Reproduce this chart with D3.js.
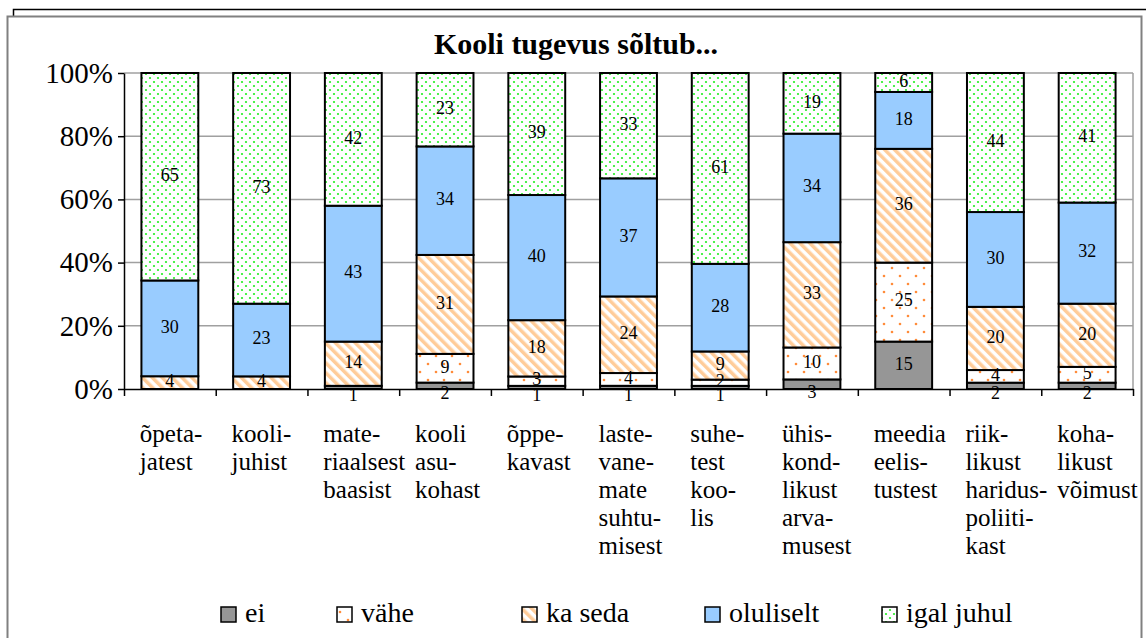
<!DOCTYPE html>
<html>
<head>
<meta charset="utf-8">
<script src="https://cdn.jsdelivr.net/npm/d3@7"></script>
<style>
  body { margin: 0; background: #fff; }
  svg { display: block; }
</style>
</head>
<body>
<div id="chart"></div>
<script>
// categories (line-broken as in the original)
var categories = [
  ["õpeta-", "jatest"],
  ["kooli-", "juhist"],
  ["mate-", "riaalsest", "baasist"],
  ["kooli", "asu-", "kohast"],
  ["õppe-", "kavast"],
  ["laste-", "vane-", "mate", "suhtu-", "misest"],
  ["suhe-", "test", "koo-", "lis"],
  ["ühis-", "kond-", "likust", "arva-", "musest"],
  ["meedia", "eelis-", "tustest"],
  ["riik-", "likust", "haridus-", "poliiti-", "kast"],
  ["koha-", "likust", "võimust"]
];
var seriesNames = ["ei", "vähe", "ka seda", "oluliselt", "igal juhul"];
var ei        = [0, 0, 1, 2, 1, 1, 1, 3, 15, 2, 2];
var vahe      = [0, 0, 0, 9, 3, 4, 2, 10, 25, 4, 5];
var kaSeda    = [4, 4, 14, 31, 18, 24, 9, 33, 36, 20, 20];
var oluliselt = [30, 23, 43, 34, 40, 37, 28, 34, 18, 30, 32];
var igalJuhul = [65, 73, 42, 23, 39, 33, 61, 19, 6, 44, 41];
var yTicks = [0, 0.2, 0.4, 0.6, 0.8, 1];

var W = 1146, H = 638;
var plotLeft = 124, plotRight = 1133, plotTop = 73, plotBottom = 389;
var serif = "'Liberation Serif', 'Times New Roman', serif";

var svg = d3.select("#chart").append("svg")
    .attr("width", W).attr("height", H)
    .attr("font-family", serif);

var defs = svg.append("defs");
// vähe: white with orange dots
var pv = defs.append("pattern").attr("id", "pVahe").attr("patternUnits", "userSpaceOnUse")
    .attr("width", 16).attr("height", 16);
pv.append("rect").attr("width", 16).attr("height", 16).attr("fill", "#fff");
pv.append("circle").attr("cx", 4).attr("cy", 4).attr("r", 1.3).attr("fill", "#ff8c3a");
pv.append("circle").attr("cx", 12).attr("cy", 12).attr("r", 1.3).attr("fill", "#ff8c3a");
// ka seda: light orange diagonal stripes
var pk = defs.append("pattern").attr("id", "pKa").attr("patternUnits", "userSpaceOnUse")
    .attr("width", 7).attr("height", 7).attr("patternTransform", "rotate(-45)");
pk.append("rect").attr("width", 7).attr("height", 7).attr("fill", "#fff");
pk.append("rect").attr("width", 3.5).attr("height", 7).attr("fill", "#ffcc99");
// igal juhul: white with green dots
var pg = defs.append("pattern").attr("id", "pIgal").attr("patternUnits", "userSpaceOnUse")
    .attr("width", 8).attr("height", 8);
pg.append("rect").attr("width", 8).attr("height", 8).attr("fill", "#fff");
pg.append("circle").attr("cx", 2).attr("cy", 2).attr("r", 1.1).attr("fill", "#22ee22");
pg.append("circle").attr("cx", 6).attr("cy", 6).attr("r", 1.1).attr("fill", "#22ee22");

var fills = ["#969696", "url(#pVahe)", "url(#pKa)", "#99ccff", "url(#pIgal)"];

// frames
svg.append("rect").attr("x", 13.5).attr("y", 9.5).attr("width", 1200).attr("height", 700)
    .attr("fill", "none").attr("stroke", "#000").attr("stroke-width", 1.5);
svg.append("rect").attr("x", 7.5).attr("y", 16.5).attr("width", 1134).attr("height", 700)
    .attr("fill", "#fff").attr("stroke", "#808080").attr("stroke-width", 2);

// title
svg.append("text").attr("x", 576).attr("y", 54).attr("text-anchor", "middle")
    .attr("font-family", serif)
    .attr("font-weight", "bold").attr("font-size", 30).text("Kooli tugevus sõltub...");

var rows = categories.map(function(c, i) {
  return {i: i, "ei": ei[i], "vähe": vahe[i], "ka seda": kaSeda[i], "oluliselt": oluliselt[i], "igal juhul": igalJuhul[i]};
});
var stack = d3.stack().keys(seriesNames).offset(d3.stackOffsetExpand);
var layers = stack(rows);

var x = d3.scaleBand().domain(d3.range(categories.length)).range([plotLeft, plotRight])
    .paddingInner(0.38).paddingOuter(0.19);
var xEdge = d3.scaleLinear().domain([0, categories.length]).range([plotLeft, plotRight]);
var y = d3.scaleLinear().domain([0, 1]).range([plotBottom, plotTop]);

// gridlines
svg.append("g").selectAll("line").data(yTicks.slice(1)).enter().append("line")
    .attr("x1", plotLeft).attr("x2", plotRight)
    .attr("y1", function(d) { return y(d); }).attr("y2", function(d) { return y(d); })
    .attr("stroke", "#a0a0a0").attr("stroke-width", 1.5);
svg.append("line").attr("x1", plotRight).attr("x2", plotRight).attr("y1", plotTop).attr("y2", plotBottom)
    .attr("stroke", "#a0a0a0").attr("stroke-width", 1.5);

// bars
var g = svg.append("g");
layers.forEach(function(layer, li) {
  g.append("g").selectAll("rect").data(layer).enter().append("rect")
    .attr("x", function(d, i) { return x(i); })
    .attr("width", x.bandwidth())
    .attr("y", function(d) { return y(d[1]); })
    .attr("height", function(d) { return y(d[0]) - y(d[1]); })
    .attr("fill", fills[li])
    .attr("stroke", "#000").attr("stroke-width", 2);
});

// data labels
layers.forEach(function(layer, li) {
  var key = layer.key;
  g.append("g").selectAll("text").data(layer.filter(function(d) { return d.data[key] > 0; }))
    .enter().append("text")
    .attr("x", function(d) { return x(d.data.i) + x.bandwidth() / 2; })
    .attr("y", function(d) {
      var c = (y(d[0]) + y(d[1])) / 2 - 2;
      if (li === 0 && d.data[key] < 5) c += 9;
      return c;
    })
    .attr("dy", "0.35em")
    .attr("font-family", serif)
    .attr("text-anchor", "middle").attr("font-size", 18)
    .text(function(d) { return d.data[key]; });
});

// axes
var yAxis = d3.axisLeft(y).tickValues(yTicks).tickFormat(d3.format(".0%")).tickSize(6).tickSizeOuter(0);
var ya = svg.append("g").attr("transform", "translate(" + plotLeft + ",0)").call(yAxis)
    .attr("font-family", serif);
ya.selectAll("text").attr("font-size", 29).attr("font-family", serif).attr("fill", "#000").attr("x", -11);
ya.selectAll("line, path").attr("stroke", "#000").attr("stroke-width", 1.5);

var xAxis = d3.axisBottom(xEdge).tickValues(d3.range(categories.length + 1)).tickFormat("").tickSize(7).tickSizeOuter(0);
var xa = svg.append("g").attr("transform", "translate(0," + plotBottom + ")").call(xAxis);
xa.selectAll("line, path").attr("stroke", "#000").attr("stroke-width", 1.5);

// category labels
var cat = svg.append("g");
categories.forEach(function(lines, i) {
  var cx = x(i) + x.bandwidth() / 2 - 30;
  var t = cat.append("text").attr("font-size", 25).attr("font-family", serif).attr("x", cx).attr("y", 442);
  lines.forEach(function(l, k) {
    t.append("tspan").attr("x", cx).attr("y", 442 + k * 28).text(l);
  });
});

// legend
var legendX = [221, 337, 522, 705, 882];
var lg = svg.append("g");
seriesNames.forEach(function(s, i) {
  lg.append("rect").attr("x", legendX[i]).attr("y", 607).attr("width", 15).attr("height", 15)
    .attr("fill", fills[i]).attr("stroke", "#000").attr("stroke-width", 1.5);
  lg.append("text").attr("x", legendX[i] + 24).attr("y", 622).attr("font-size", 28)
    .attr("font-family", serif).text(s);
});
</script>
</body>
</html>
